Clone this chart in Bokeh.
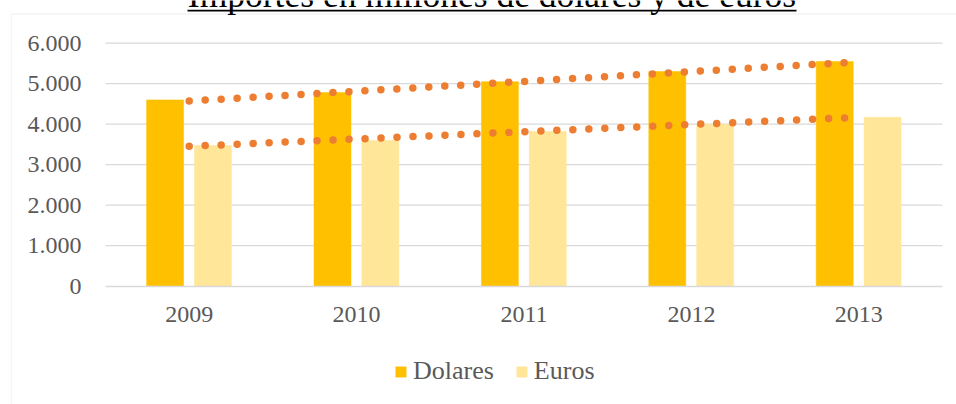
import numpy as np
from bokeh.plotting import figure
from bokeh.models import (Range1d, FixedTicker, Legend, LegendItem,
                          Label, PolyAnnotation, ColumnDataSource)
from bokeh.embed import file_html
from bokeh.resources import INLINE

title_text = "Importes en millones de dolares y de euros"
categories = ["2009", "2010", "2011", "2012", "2013"]
dolares = [4600, 4780, 5050, 5300, 5550]
euros = [3475, 3600, 3820, 4000, 4170]
y_ticks = [0, 1000, 2000, 3000, 4000, 5000, 6000]
y_tick_labels = ["0", "1.000", "2.000", "3.000", "4.000", "5.000", "6.000"]
series_names = ["Dolares", "Euros"]

FONT = "Liberation Serif"
GRAY_TXT = "#595959"
GRID = "#d9d9d9"

# positions of categories on a numeric axis (1..n)
xpos = list(range(1, len(categories) + 1))
xi = np.array(xpos, dtype=float)
trend_d = np.polyval(np.polyfit(xi, dolares, 1), xi)
trend_e = np.polyval(np.polyfit(xi, euros, 1), xi)

src = ColumnDataSource(dict(x=xpos, d=dolares, e=euros,
                            xd=[v - 0.144 for v in xpos], xe=[v + 0.142 for v in xpos],
                            td=list(trend_d), te=list(trend_e)))

# page geometry (pixels): plot area spans x 105..942, y 42.7 (top) .. 285.7 (zero line)
W, H = 956, 404
PL, PR, PT, PB = 105.0, 942.0, 42.7, 285.7
ux = (PR - PL) / len(categories)          # px per category
uy = (PB - PT) / (y_ticks[-1] - y_ticks[0])  # px per unit
x0, x1 = 0.5, len(categories) + 0.5
x_range = Range1d(x0 - PL / ux, x1 + (W - PR) / ux)
y_range = Range1d(y_ticks[0] - (H - PB) / uy, y_ticks[-1] + PT / uy)

p = figure(x_range=x_range, y_range=y_range, width=W, height=H,
           output_backend="svg", toolbar_location=None,
           min_border_left=0, min_border_right=0, min_border_top=0, min_border_bottom=0)
p.outline_line_color = None
p.background_fill_color = "white"
p.border_fill_color = "white"
p.xgrid.grid_line_color = None
p.ygrid.grid_line_color = None

# horizontal gridlines across the plot area only
p.segment(x0=[x0] * (len(y_ticks) - 1), x1=[x1] * (len(y_ticks) - 1),
          y0=y_ticks[1:], y1=y_ticks[1:], line_color=GRID, line_width=1.3)

bw = 0.221
r_d = p.vbar(x="xd", top="d", width=bw, source=src,
             fill_color="#FFC000", line_color="#FFC000", line_width=0.5)
r_e = p.vbar(x="xe", top="e", width=bw, source=src,
             fill_color="#FFE699", line_color="#FFE699", line_width=0.5)

p.line(x="x", y="td", source=src, line_color="#ED7D31", line_width=7.5,
       line_dash="0 16", line_cap="round")
p.line(x="x", y="te", source=src, line_color="#ED7D31", line_width=7.5,
       line_dash="0 16", line_cap="round")

# y axis (fixed at the plot area's left edge)
ya = p.yaxis[0]
ya.fixed_location = x0
ya.bounds = (y_ticks[0], y_ticks[-1])
ya.ticker = FixedTicker(ticks=y_ticks)
ya.major_label_overrides = {t: l for t, l in zip(y_ticks, y_tick_labels)}
ya.axis_line_color = None
ya.major_tick_line_color = None
ya.minor_tick_line_color = None
ya.major_tick_out = 0
ya.major_label_standoff = 24
ya.major_label_text_font = FONT
ya.major_label_text_font_size = "24px"
ya.major_label_text_color = GRAY_TXT

# x axis (fixed at zero)
xa = p.xaxis[0]
xa.fixed_location = 0
xa.bounds = (x0, x1)
xa.ticker = FixedTicker(ticks=xpos)
xa.major_label_overrides = {v: c for v, c in zip(xpos, categories)}
xa.axis_line_color = GRID
xa.axis_line_width = 1.3
xa.major_tick_line_color = None
xa.minor_tick_line_color = None
xa.major_tick_out = 0
xa.major_label_standoff = 21
xa.major_label_text_font = FONT
xa.major_label_text_font_size = "24px"
xa.major_label_text_color = GRAY_TXT

# legend (screen units from the bottom-left of the canvas)
legend = Legend(items=[LegendItem(label=series_names[0], renderers=[r_d]),
                       LegendItem(label=series_names[1], renderers=[r_e])],
                orientation="horizontal", location=(394, 18),
                glyph_width=13, glyph_height=13, label_standoff=6, spacing=21,
                padding=0, margin=0, border_line_color=None,
                background_fill_alpha=0,
                label_text_font=FONT, label_text_font_size="26px",
                label_text_color=GRAY_TXT)
p.add_layout(legend, "center")

# outer chart box (left and top edges)
box = PolyAnnotation(xs=[11, 11, 1100, 1100], ys=[-300, H - 13.5, H - 13.5, -300],
                     xs_units="screen", ys_units="screen",
                     fill_color=None, fill_alpha=0, line_color=GRID, line_width=1.3)
p.add_layout(box)

# title (partly above the window) and its underline
p.add_layout(Label(x=491.5, y=H + 5.5, x_units="screen", y_units="screen",
                   text=title_text, text_font=FONT, text_font_size="35.5px",
                   text_color="black", text_align="center",
                   text_baseline="alphabetic"))
ul = PolyAnnotation(xs=[187, 796, 796, 187], ys=[H - 9.3, H - 9.3, H - 10.9, H - 10.9],
                    xs_units="screen", ys_units="screen",
                    fill_color="black", fill_alpha=1, line_color=None)
p.add_layout(ul)

open("out.html", "w").write(file_html(p, INLINE))
